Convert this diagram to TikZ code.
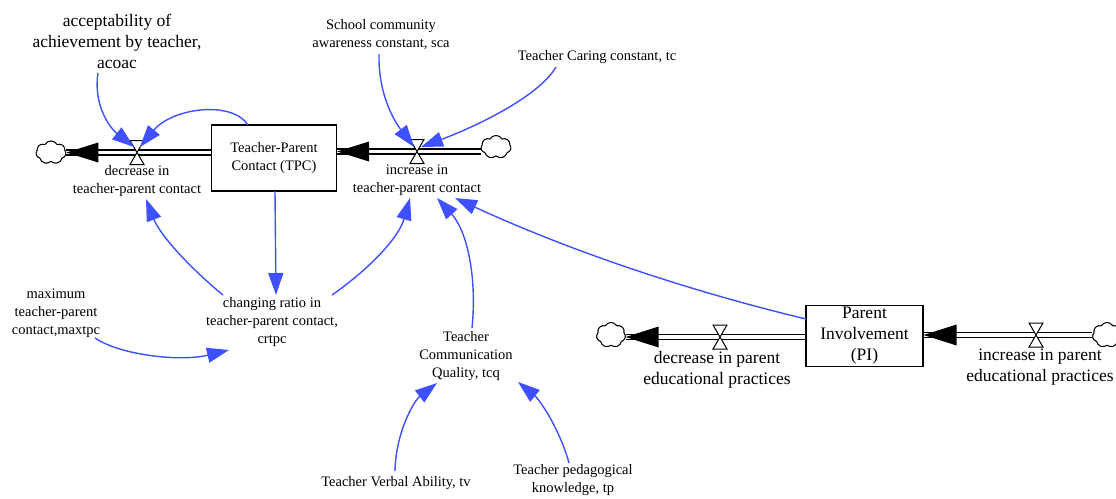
\documentclass[tikz,border=0pt]{standalone}
\usepackage{fontspec}
\setmainfont{Liberation Serif}
\usetikzlibrary{arrows.meta,shapes.symbols}
\definecolor{linkblue}{RGB}{62,80,255}
\newcommand\smallfnt{\fontsize{14.5}{18}\selectfont}
\newcommand\bigfnt{\fontsize{17.5}{21}\selectfont}
\tikzset{
  lbl/.style={align=center, inner sep=1pt, font=\smallfnt},
  biglbl/.style={align=center, inner sep=1pt, font=\bigfnt},
  stock/.style={draw, line width=1.1pt, fill=white, align=center, inner sep=2pt},
  pipe/.style={draw, line width=1.4pt, double=white, double distance=3.6pt},
  link/.style={draw=linkblue, line width=1.4pt, -{Triangle[length=22pt,width=15pt]}},
  sink/.style={cloud, cloud puffs=7, cloud puff arc=120, cloud ignores aspect,
    draw, line width=0.9pt, fill=white, inner sep=0pt,
    minimum width=30pt, minimum height=23pt},
  flowhead/.style={fill=black},
  valve/.pic={\filldraw[fill=white, line width=1pt]
    (-7,-12) -- (7,-12) -- (-7,12) -- (7,12) -- cycle;}
}
\begin{document}
\begin{tikzpicture}[x=1pt, y=-1pt]
  \useasboundingbox (0,0) rectangle (1116,498);
  \clip (0,0) rectangle (1116,498);

  % stocks
  \node[stock, font=\smallfnt, minimum width=125pt, minimum height=66pt] (tpc) at (274,158)
    {Teacher-Parent\\Contact (TPC)};
  \node[stock, font=\bigfnt, minimum width=117pt, minimum height=61pt] (pi) at (864.5,336)
    {Parent\\Involvement\\(PI)};

  % clouds (sources and sinks)
  \node[sink] (cdec) at (51,152.5) {};
  \node[sink] (cinc) at (496,147) {};
  \node[sink, minimum width=29pt, minimum height=25pt] (cdpi) at (611,335) {};
  \node[sink, minimum width=29pt, minimum height=25pt] (cipi) at (1107,335) {};

  % valve positions
  \coordinate (vdec) at (137,152.5);
  \coordinate (vinc) at (417,151.5);
  \coordinate (vdpi) at (720,337);
  \coordinate (vipi) at (1036,335);

  % pipes
  \draw[pipe] (tpc.west |- vdec) -- (cdec.east |- vdec);
  \draw[pipe] (cinc.west |- vinc) -- (tpc.east |- vinc);
  \draw[pipe] (pi.west |- vdpi) -- (cdpi.east |- vdpi);
  \draw[pipe] (cipi.west |- vipi) -- (pi.east |- vipi);

  % clouds drawn again over the pipe ends
  \node[sink] at (cdec) {};
  \node[sink] at (cinc) {};
  \node[sink, minimum width=29pt, minimum height=25pt] at (cdpi) {};
  \node[sink, minimum width=29pt, minimum height=25pt] at (cipi) {};

  % flow arrowheads
  \fill[flowhead] (cdec.east |- vdec) -- ++(32,-10) -- ++(0,20) -- cycle;
  \fill[flowhead] (tpc.east |- vinc) -- ++(32,-10) -- ++(0,20) -- cycle;
  \fill[flowhead] (cdpi.east |- vdpi) -- ++(33,-10.5) -- ++(0,21) -- cycle;
  \fill[flowhead] (pi.east |- vipi) -- ++(33,-10.5) -- ++(0,21) -- cycle;

  % valves
  \pic at (vdec) {valve};
  \pic at (vinc) {valve};
  \pic at (vdpi) {valve};
  \pic at (vipi) {valve};

  % labels
  \node[biglbl] (acoac) at (117,41) {acceptability of\\achievement by teacher,\\acoac};
  \node[lbl] (sca) at (381,35) {School community\\awareness constant, sca};
  \node[lbl] (tc) at (597,57) {Teacher Caring constant, tc};
  \node[lbl] (decl) at (137,181) {decrease in\\teacher-parent contact};
  \node[lbl] (incl) at (417,180) {increase in\\teacher-parent contact};
  \node[lbl] (crtpc) at (272,322) {changing ratio in\\teacher-parent contact,\\crtpc};
  \node[lbl] (maxtpc) at (56,313) {maximum\\teacher-parent\\contact,maxtpc};
  \node[lbl] (tcq) at (466,356) {Teacher\\Communication\\Quality, tcq};
  \node[lbl] (tv) at (396,483) {Teacher Verbal Ability, tv};
  \node[lbl] (tp) at (573,480) {Teacher pedagogical\\knowledge, tp};
  \node[biglbl] (decpl) at (717,370) {decrease in parent\\educational practices};
  \node[biglbl] (incpl) at (1040,367) {increase in parent\\educational practices};

  % information links
  \draw[link] ([shift={(-19,32)}]acoac.center) .. controls +(-5,32) and +(-24,-19) .. ([shift={(-3,-5.5)}]vdec);
  \draw[link] ([shift={(-26,-33)}]tpc.center) .. controls +(-16,-25) and +(32,-39) .. ([shift={(3,-5.5)}]vdec);
  \draw[link] ([shift={(-2,19)}]sca.center) .. controls +(-1,41) and +(-19,-25) .. ([shift={(-3,-4.5)}]vinc);
  \draw[link] ([shift={(-41,10)}]tc.center) .. controls +(-16,28) and +(59,-22) .. ([shift={(4,-4.5)}]vinc);
  \draw[link] ([shift={(1,33)}]tpc.center) -- ([shift={(4,-27)}]crtpc.center);
  \draw[link] ([shift={(-49,-27)}]crtpc.center) .. controls +(-33,-27) and +(14,36) .. ([shift={(9,18)}]decl.center);
  \draw[link] ([shift={(60,-27)}]crtpc.center) .. controls +(33,-23) and +(-12,42) .. ([shift={(-7,18)}]incl.center);
  \draw[link] ([shift={(6,-28)}]tcq.center) .. controls +(5,-48) and +(31,34) .. ([shift={(20,18)}]incl.center);
  \draw[link] ([shift={(-58.5,-17)}]pi.center) .. controls +(-121,-29) and +(113,52) .. ([shift={(38,18)}]incl.center);
  \draw[link] ([shift={(39,25)}]maxtpc.center) .. controls +(25,17) and +(-49,12) .. ([shift={(-43,28)}]crtpc.center);
  \draw[link] ([shift={(-1,-12)}]tv.center) .. controls +(1,-41) and +(-22,17) .. ([shift={(-29,27)}]tcq.center);
  \draw[link] ([shift={(-4,-17)}]tp.center) .. controls +(-9,-33) and +(22,18) .. ([shift={(52,26)}]tcq.center);
\end{tikzpicture}
\end{document}
